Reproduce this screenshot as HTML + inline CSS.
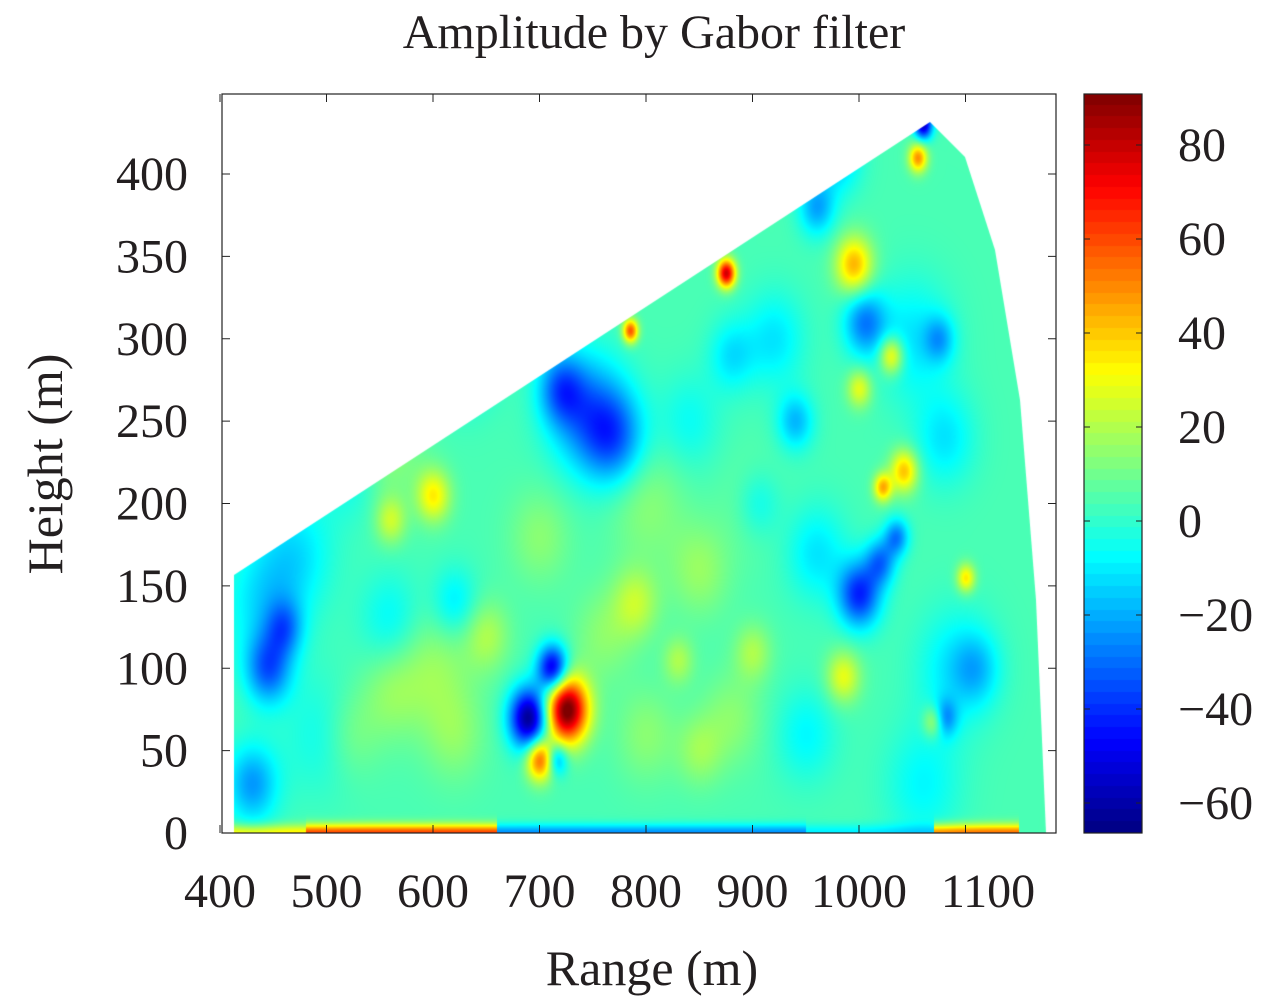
<!DOCTYPE html>
<html><head><meta charset="utf-8"><style>
body{margin:0;background:#fff;width:1280px;height:1000px;overflow:hidden;font-family:"Liberation Serif",serif;}
svg text{font-family:"Liberation Serif",serif;fill:#231f20;}
</style></head><body>
<div style="position:relative;width:1280px;height:1000px">
<canvas id="hm" width="1280" height="1000" style="position:absolute;left:0;top:0"></canvas>
<svg id="ov" width="1280" height="1000" style="position:absolute;left:0;top:0"></svg>
</div>
<script>
// ---- data ----
const xTicks=[400,500,600,700,800,900,1000,1100];
const yTicks=[0,50,100,150,200,250,300,350,400];
const cTicks=[80,60,40,20,0,-20,-40,-60];
const baseValue=4;
// blobs: range (m), height (m), amplitude, sigma (m)
const blobRange=[725,690,712,700,716,745,770,720,630,600,445,460,1000,1020,1005,960,1060,875,785,1055,1030,1042,1022,995,1000,600,560,1100,1070,985,790,900,830,1035,1080,940,470,430,1110,880,520,650,560,850,1075,905,
 440,500,560,620,430,1050,1080,1090,1060,950,960,920,860,980,840,520,600,620,800,850,880,760,800,700,560,900];
const blobHeight=[75,70,100,45,45,255,240,270,290,280,100,125,145,165,310,380,430,340,305,410,290,220,210,345,270,205,190,155,68,95,140,110,105,180,70,250,170,30,100,290,60,120,230,50,300,200,
 140,60,130,140,30,300,240,100,30,60,170,300,400,410,250,220,100,60,200,160,70,120,60,180,85,200];
const blobAmp=[92,-70,-60,55,-30,-30,-30,-30,-20,-18,-35,-25,-45,-30,-30,-25,-60,75,55,45,35,38,40,40,25,30,20,32,25,25,18,15,15,-30,-25,-22,-15,-12,-15,-15,12,15,10,12,-20,-15,
 -15,-12,-12,-15,-15,-15,-15,-15,-12,-12,-15,-15,-15,-20,-10,-10,12,10,10,12,10,10,10,10,10,8];
const blobSigma=[14,13,10,9,7,25,20,15,20,12,15,12,14,10,14,12,6,6,5,6,8,9,6,12,8,11,10,6,7,11,15,12,10,8,8,12,25,20,15,15,20,15,20,15,10,15,
 25,25,20,15,15,25,20,25,25,20,20,20,20,15,20,20,25,20,25,20,20,20,20,20,20,20];
// ground strip segments: start range, end range, value
const stripStart=[410,480,660,950,1070];
const stripEnd=[480,660,950,1070,1150];
const stripValue=[35,62,-25,-10,55];
const cMin=-66.4,cMax=90.9;

// ---- axes ----
const X0=222,X1=1056,Y0=94,Y1=833;
const xs=v=>220+(v-400)*1.065;
const ys=v=>833-v*1.6475;
const cs=v=>521-v*4.7;
function jet(t){t=Math.max(0,Math.min(1,t));
 const r=Math.min(1,Math.max(0,1.5-Math.abs(4*t-3)));
 const g=Math.min(1,Math.max(0,1.5-Math.abs(4*t-2)));
 const b=Math.min(1,Math.max(0,1.5-Math.abs(4*t-1)));
 return [r*255|0,g*255|0,b*255|0];}
function field(rx,hy){let v=baseValue;
 for(let i=0;i<blobRange.length;i++){const dx=(rx-blobRange[i])/blobSigma[i],dy=(hy-blobHeight[i])/blobSigma[i];
  const d=dx*dx+dy*dy; if(d<20)v+=blobAmp[i]*Math.exp(-d/2);}
 if(hy<14){for(let i=0;i<stripStart.length;i++){if(rx>=stripStart[i]&&rx<stripEnd[i]){v+=(stripValue[i]-baseValue)*Math.exp(-hy*hy/30);}}}
 return v;}
const cv=document.getElementById('hm'),ctx=cv.getContext('2d');
const poly=[[234,575],[930,122],[965,157],[995,250],[1020,400],[1036,600],[1046,833],[234,833]];
ctx.save();ctx.beginPath();poly.forEach((p,i)=>i?ctx.lineTo(p[0],p[1]):ctx.moveTo(p[0],p[1]));ctx.closePath();ctx.clip();
const img=ctx.createImageData(830,720);
for(let py=0;py<720;py++)for(let px=0;px<830;px++){
 const X=225+px,Y=118+py;const rx=400+(X-220)/1.065,hy=(833-Y)/1.6475;
 const c=jet((field(rx,hy)-cMin)/(cMax-cMin));const k=(py*830+px)*4;
 img.data[k]=c[0];img.data[k+1]=c[1];img.data[k+2]=c[2];img.data[k+3]=255;}
const tmp=document.createElement('canvas');tmp.width=830;tmp.height=720;tmp.getContext('2d').putImageData(img,0,0);
ctx.drawImage(tmp,225,118);ctx.restore();
// colorbar
for(let y=94;y<833;y++){const v=cMax-(y-94)/(833-94)*(cMax-cMin);
 const q=Math.round(v/2.5)*2.5;const cc=jet((q-cMin)/(cMax-cMin));ctx.fillStyle=`rgb(${cc[0]},${cc[1]},${cc[2]})`;ctx.fillRect(1084,y,58,1);}

const svg=document.getElementById('ov');const NS='http://www.w3.org/2000/svg';
function el(t,a,txt){const e=document.createElementNS(NS,t);for(const k in a)e.setAttribute(k,a[k]);if(txt!==undefined)e.textContent=txt;svg.appendChild(e);return e;}
const frame=el('rect',{x:X0,y:Y0,width:X1-X0,height:Y1-Y0,fill:'none',stroke:'#222','stroke-width':1.2});


const cbf=el('rect',{x:1084,y:94,width:58,height:739,fill:'none',stroke:'#222','stroke-width':1.2});


xTicks.forEach(v=>{const x=xs(v);
 el('line',{x1:x,x2:x,y1:Y1,y2:Y1-8,stroke:'#222'});el('line',{x1:x,x2:x,y1:Y0,y2:Y0+8,stroke:'#222'});
 const lx=v===1100?988:x;
 const t=el('text',{x:lx,y:907,'font-size':48,'text-anchor':'middle'},String(v));
 
 });
yTicks.forEach(v=>{const y=ys(v);
 el('line',{x1:X0,x2:X0+8,y1:y,y2:y,stroke:'#222'});el('line',{x1:X1,x2:X1-8,y1:y,y2:y,stroke:'#222'});
 const t=el('text',{x:188,y:y+16,'font-size':48,'text-anchor':'end'},String(v));
 
 });
cTicks.forEach(v=>{const y=cs(v);
 el('line',{x1:1084,x2:1090,y1:y,y2:y,stroke:'#222'});el('line',{x1:1142,x2:1136,y1:y,y2:y,stroke:'#222'});
 const t=el('text',{x:1178,y:y+16,'font-size':48},v<0?'\u2212'+(-v):String(v));
 
 });
const ti=el('text',{x:654,y:48,'font-size':48,'text-anchor':'middle'},'Amplitude by Gabor filter');


const xt=el('text',{x:652,y:985,'font-size':50,'text-anchor':'middle'},'Range (m)');


const yt=el('text',{x:0,y:0,'font-size':50,'text-anchor':'middle',transform:'translate(62,464) rotate(-90)'},'Height (m)');


</script>
</body></html>
